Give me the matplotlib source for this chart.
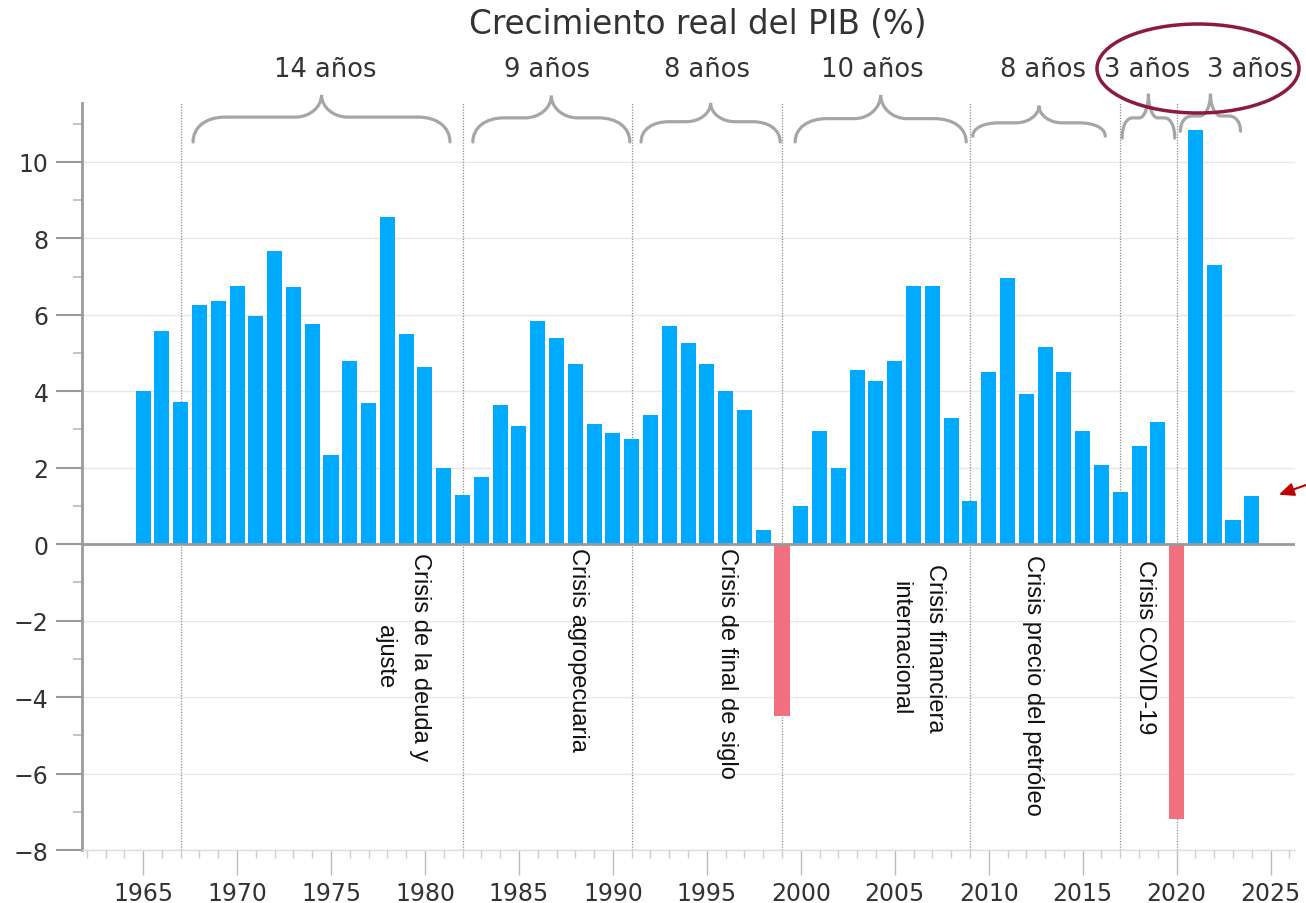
import matplotlib
matplotlib.use("Agg")
import matplotlib.pyplot as plt
from matplotlib.path import Path
from matplotlib.patches import PathPatch, Ellipse

# datos: crecimiento real del PIB (%)
years = list(range(1965, 2025))
growth = [4.01, 5.57, 3.72, 6.26, 6.35, 6.74, 5.97, 7.68, 6.72, 5.76,
          2.32, 4.78, 3.70, 8.56, 5.50, 4.64, 2.00, 1.29, 1.76, 3.65,
          3.09, 5.85, 5.40, 4.70, 3.14, 2.91, 2.74, 3.37, 5.71, 5.27,
          4.70, 4.01, 3.52, 0.38, -4.50, 0.99, 2.95, 2.00, 4.56, 4.26,
          4.80, 6.74, 6.75, 3.30, 1.13, 4.50, 6.97, 3.92, 5.15, 4.50,
          2.95, 2.08, 1.36, 2.58, 3.19, -7.20, 10.83, 7.30, 0.62, 1.27]

crisis_years = [1967, 1982, 1991, 1999, 2009, 2017, 2020]
crisis_labels = ["Crisis de la deuda y\najuste", "Crisis agropecuaria",
                 "Crisis de final de siglo", "Crisis financiera\ninternacional",
                 "Crisis precio del petróleo", "Crisis COVID-19"]
period_labels = ["14 años", "9 años", "8 años", "10 años", "8 años", "3 años", "3 años"]

# posiciones de las anotaciones
crisis_pos = [(1978.8, -0.2), (1988.15, -0.08), (1996.05, -0.08),
              (2006.2, -0.5), (2012.35, -0.26), (2018.3, -0.4)]
period_pos = [1974.7, 1986.5, 1995.0, 2003.8, 2012.9, 2018.45, 2023.9]
braces = [(1967.66, 1981.33, 10.52, 11.17, 11.75),
          (1982.55, 1990.9, 10.52, 11.15, 11.73),
          (1991.5, 1998.9, 10.52, 11.05, 11.54),
          (1999.7, 2008.8, 10.52, 11.13, 11.75),
          (2009.15, 2016.2, 10.67, 11.02, 11.47),
          (2017.1, 2019.9, 10.62, 11.15, 11.78),
          (2020.2, 2023.4, 10.8, 11.2, 11.78)]

BLUE = "#00AAFF"
RED = "#F2707F"
GRAY = "#9a9a9a"
TXT = "#333333"


def brace(ax, x0, x1, y0, y1, y2):
    xc = (x0 + x1) / 2
    half = xc - x0
    r = min(1.7, half * 0.4)
    r2 = min(1.4, half * 0.35)
    verts = [(x0, y0), (x0, y0 + 0.6 * (y1 - y0)), (x0 + 0.4 * r, y1), (x0 + r, y1),
             (xc - r2, y1),
             (xc - 0.45 * r2, y1), (xc, y1 + 0.45 * (y2 - y1)), (xc, y2),
             (xc, y1 + 0.45 * (y2 - y1)), (xc + 0.45 * r2, y1), (xc + r2, y1),
             (x1 - r, y1),
             (x1 - 0.4 * r, y1), (x1, y0 + 0.6 * (y1 - y0)), (x1, y0)]
    codes = [Path.MOVETO] + [Path.CURVE4] * 3 + [Path.LINETO] + [Path.CURVE4] * 6 + \
            [Path.LINETO] + [Path.CURVE4] * 3
    ax.add_patch(PathPatch(Path(verts, codes), fill=False, edgecolor="#a6a6a6",
                           lw=2.3, clip_on=False, capstyle="round"))


fig = plt.figure(figsize=(13.06, 9.04), dpi=100)
ax = fig.add_axes([0.0628, 0.0586, 0.9288, 0.8264])

colors = [BLUE if g >= 0 else RED for g in growth]
ax.bar(years, growth, width=0.8, color=colors, zorder=3)

ax.set_xlim(1961.75, 2026.3)
ax.set_ylim(-8, 11.54)

ax.set_yticks(range(-8, 11, 2))
ax.set_yticks(range(-7, 12, 2), minor=True)
ax.set_xticks(range(1965, 2026, 5))
ax.set_xticks(range(1962, 2027), minor=True)

ax.grid(axis="y", which="major", color="#e8e8e8", lw=1, zorder=0)
ax.axhline(0, color=GRAY, lw=2, zorder=4)

for y in crisis_years:
    ax.axvline(y, color="#8c8c8c", lw=0.9, ls=(0, (1, 1.2)), zorder=2)

for s in ["top", "right"]:
    ax.spines[s].set_visible(False)
ax.spines["left"].set_color(GRAY)
ax.spines["left"].set_linewidth(2)
ax.spines["bottom"].set_color("#dddddd")
ax.spines["bottom"].set_linewidth(1)

ax.tick_params(axis="y", which="major", length=19, width=1.5, color=GRAY,
               labelsize=17, labelcolor=TXT, pad=5)
ax.tick_params(axis="y", which="minor", length=6.5, width=1.2, color="#bbbbbb")
ax.tick_params(axis="x", which="major", length=18, width=1, color="#bbbbbb",
               labelsize=17, labelcolor=TXT, pad=4)
ax.tick_params(axis="x", which="minor", length=6, width=1, color="#cccccc")

for lab, (x, y) in zip(crisis_labels, crisis_pos):
    ax.text(x, y, lab, rotation=270, ha="center", va="top", multialignment="center",
            fontsize=17, color="#111111", linespacing=1.75,
            family=["Liberation Sans", "DejaVu Sans"], zorder=5)

for (x0, x1, y0, y1, y2) in braces:
    brace(ax, x0, x1, y0, y1, y2)

for lab, x in zip(period_labels, period_pos):
    ax.text(x, 12.25, lab, ha="center", va="baseline", fontsize=18.5, color=TXT,
            clip_on=False)

fig.text(0.534, 0.9624, "Crecimiento real del PIB (%)", ha="center", va="baseline",
         fontsize=23.5, color=TXT)

W, H = 1306, 904
fig.add_artist(Ellipse((1198 / W, 1 - 69.5 / H), 202 / W, 89 / H,
                       transform=fig.transFigure, fill=False,
                       edgecolor="#8B1A3C", lw=2.5))

ax.annotate("", xy=(2025.3, 1.27), xytext=(2027.3, 1.62),
            arrowprops=dict(arrowstyle="-|>,head_length=0.9,head_width=0.4",
                            color="#C00000", lw=1.5),
            annotation_clip=False)

fig.savefig("out.png", dpi=100)
